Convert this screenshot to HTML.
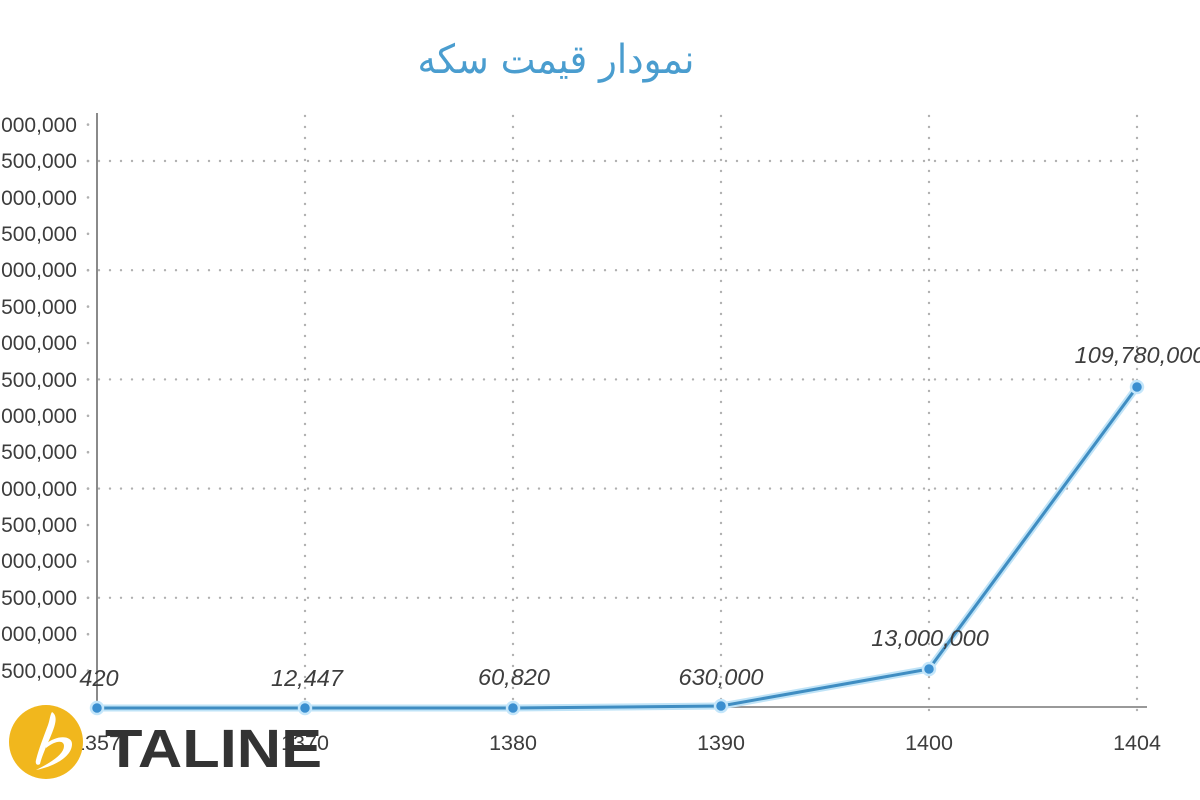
<!DOCTYPE html>
<html><head><meta charset="utf-8"><style>
html,body{margin:0;padding:0;background:#fff;}
svg{display:block;}
</style></head><body>
<svg width="1200" height="800" viewBox="0 0 1200 800" xmlns="http://www.w3.org/2000/svg">
<rect width="1200" height="800" fill="#fff"/>
<!-- title -->
<text x="556" y="73" text-anchor="middle" font-family="DejaVu Sans, sans-serif" font-size="40" fill="#4a9dcf" direction="rtl" textLength="277" lengthAdjust="spacingAndGlyphs">نمودار قیمت سکه</text>

<!-- horizontal grid -->
<g stroke="#b0b0b0" stroke-width="2.4" stroke-dasharray="0 11" stroke-linecap="round">
<line x1="88" y1="161" x2="1137" y2="161"/>
<line x1="88" y1="270.2" x2="1137" y2="270.2"/>
<line x1="88" y1="379.4" x2="1137" y2="379.4"/>
<line x1="88" y1="488.6" x2="1137" y2="488.6"/>
<line x1="88" y1="597.8" x2="1137" y2="597.8"/>
</g>
<!-- vertical grid -->
<g stroke="#b0b0b0" stroke-width="2.4" stroke-dasharray="0 11" stroke-linecap="round">
<line x1="305" y1="116" x2="305" y2="720"/>
<line x1="513" y1="116" x2="513" y2="720"/>
<line x1="721" y1="116" x2="721" y2="720"/>
<line x1="929" y1="116" x2="929" y2="720"/>
<line x1="1137" y1="116" x2="1137" y2="720"/>
</g>
<!-- tick dots -->
<g fill="#b0b0b0">
<circle cx="88" cy="124.6" r="1.3"/><circle cx="88" cy="161" r="1.3"/><circle cx="88" cy="197.4" r="1.3"/>
<circle cx="88" cy="233.8" r="1.3"/><circle cx="88" cy="270.2" r="1.3"/><circle cx="88" cy="306.6" r="1.3"/>
<circle cx="88" cy="343" r="1.3"/><circle cx="88" cy="379.4" r="1.3"/><circle cx="88" cy="415.8" r="1.3"/>
<circle cx="88" cy="452.2" r="1.3"/><circle cx="88" cy="488.6" r="1.3"/><circle cx="88" cy="525" r="1.3"/>
<circle cx="88" cy="561.4" r="1.3"/><circle cx="88" cy="597.8" r="1.3"/><circle cx="88" cy="634.2" r="1.3"/>
<circle cx="88" cy="670.6" r="1.3"/>
</g>
<!-- axes -->
<line x1="97" y1="113" x2="97" y2="708" stroke="#8a8a8a" stroke-width="2"/>
<line x1="97" y1="707" x2="1147" y2="707" stroke="#999" stroke-width="2"/>

<!-- y labels -->
<g font-family="Liberation Sans, sans-serif" font-size="21" fill="#3d3d3d" text-anchor="end">
<text x="77" y="132">200,000,000</text>
<text x="77" y="168">187,500,000</text>
<text x="77" y="205">175,000,000</text>
<text x="77" y="241">162,500,000</text>
<text x="77" y="277">150,000,000</text>
<text x="77" y="314">137,500,000</text>
<text x="77" y="350">125,000,000</text>
<text x="77" y="387">112,500,000</text>
<text x="77" y="423">100,000,000</text>
<text x="77" y="459">87,500,000</text>
<text x="77" y="496">75,000,000</text>
<text x="77" y="532">62,500,000</text>
<text x="77" y="568">50,000,000</text>
<text x="77" y="605">37,500,000</text>
<text x="77" y="641">25,000,000</text>
<text x="77" y="678">12,500,000</text>
</g>

<!-- x labels -->
<g font-family="Liberation Sans, sans-serif" font-size="21.5" fill="#3d3d3d" text-anchor="middle">
<text x="97" y="750">1357</text>
<text x="305" y="750">1370</text>
<text x="513" y="750">1380</text>
<text x="721" y="750">1390</text>
<text x="929" y="750">1400</text>
<text x="1137" y="750">1404</text>
</g>

<!-- series -->
<polyline points="97,708 305,708 513,708 721,706 929,669 1137,387" fill="none" stroke="#bfe3f7" stroke-width="7" stroke-linejoin="round"/>
<polyline points="97,708 305,708 513,708 721,706 929,669 1137,387" fill="none" stroke="#3f8dc2" stroke-width="3" stroke-linejoin="round"/>
<g fill="#3b8fd0" stroke="#c4e6fa" stroke-width="2.5">
<circle cx="97" cy="708" r="6"/>
<circle cx="305" cy="708" r="6"/>
<circle cx="513" cy="708" r="6"/>
<circle cx="721" cy="706" r="6"/>
<circle cx="929" cy="669" r="6"/>
<circle cx="1137" cy="387" r="6"/>
</g>

<!-- data labels -->
<g font-family="Liberation Sans, sans-serif" font-style="italic" font-size="23.5" fill="#3d3d3d" text-anchor="middle">
<text x="99" y="686">420</text>
<text x="307" y="686">12,447</text>
<text x="514" y="685">60,820</text>
<text x="721" y="685">630,000</text>
<text x="930" y="646">13,000,000</text>
<text x="1140" y="363">109,780,000</text>
</g>

<!-- logo -->
<circle cx="46" cy="742" r="37" fill="#f1b71d"/>
<path d="M52,712 C58,716 56,724 50,738 C46,747 42,756 40,764 C37,766 35,764 36,760 C39,748 44,736 48,725 C50,719 50,715 52,712 Z" fill="#fff"/>
<path d="M46,744 C56,735 72,735 72,744 C72,756 56,766 36,770 C52,762 64,754 64,746 C64,740 56,740 46,748 Z" fill="#fff"/>
<text x="105" y="767" font-family="Liberation Sans, sans-serif" font-weight="bold" font-size="54" fill="#333" textLength="217" lengthAdjust="spacingAndGlyphs">TALINE</text>
</svg>
</body></html>
